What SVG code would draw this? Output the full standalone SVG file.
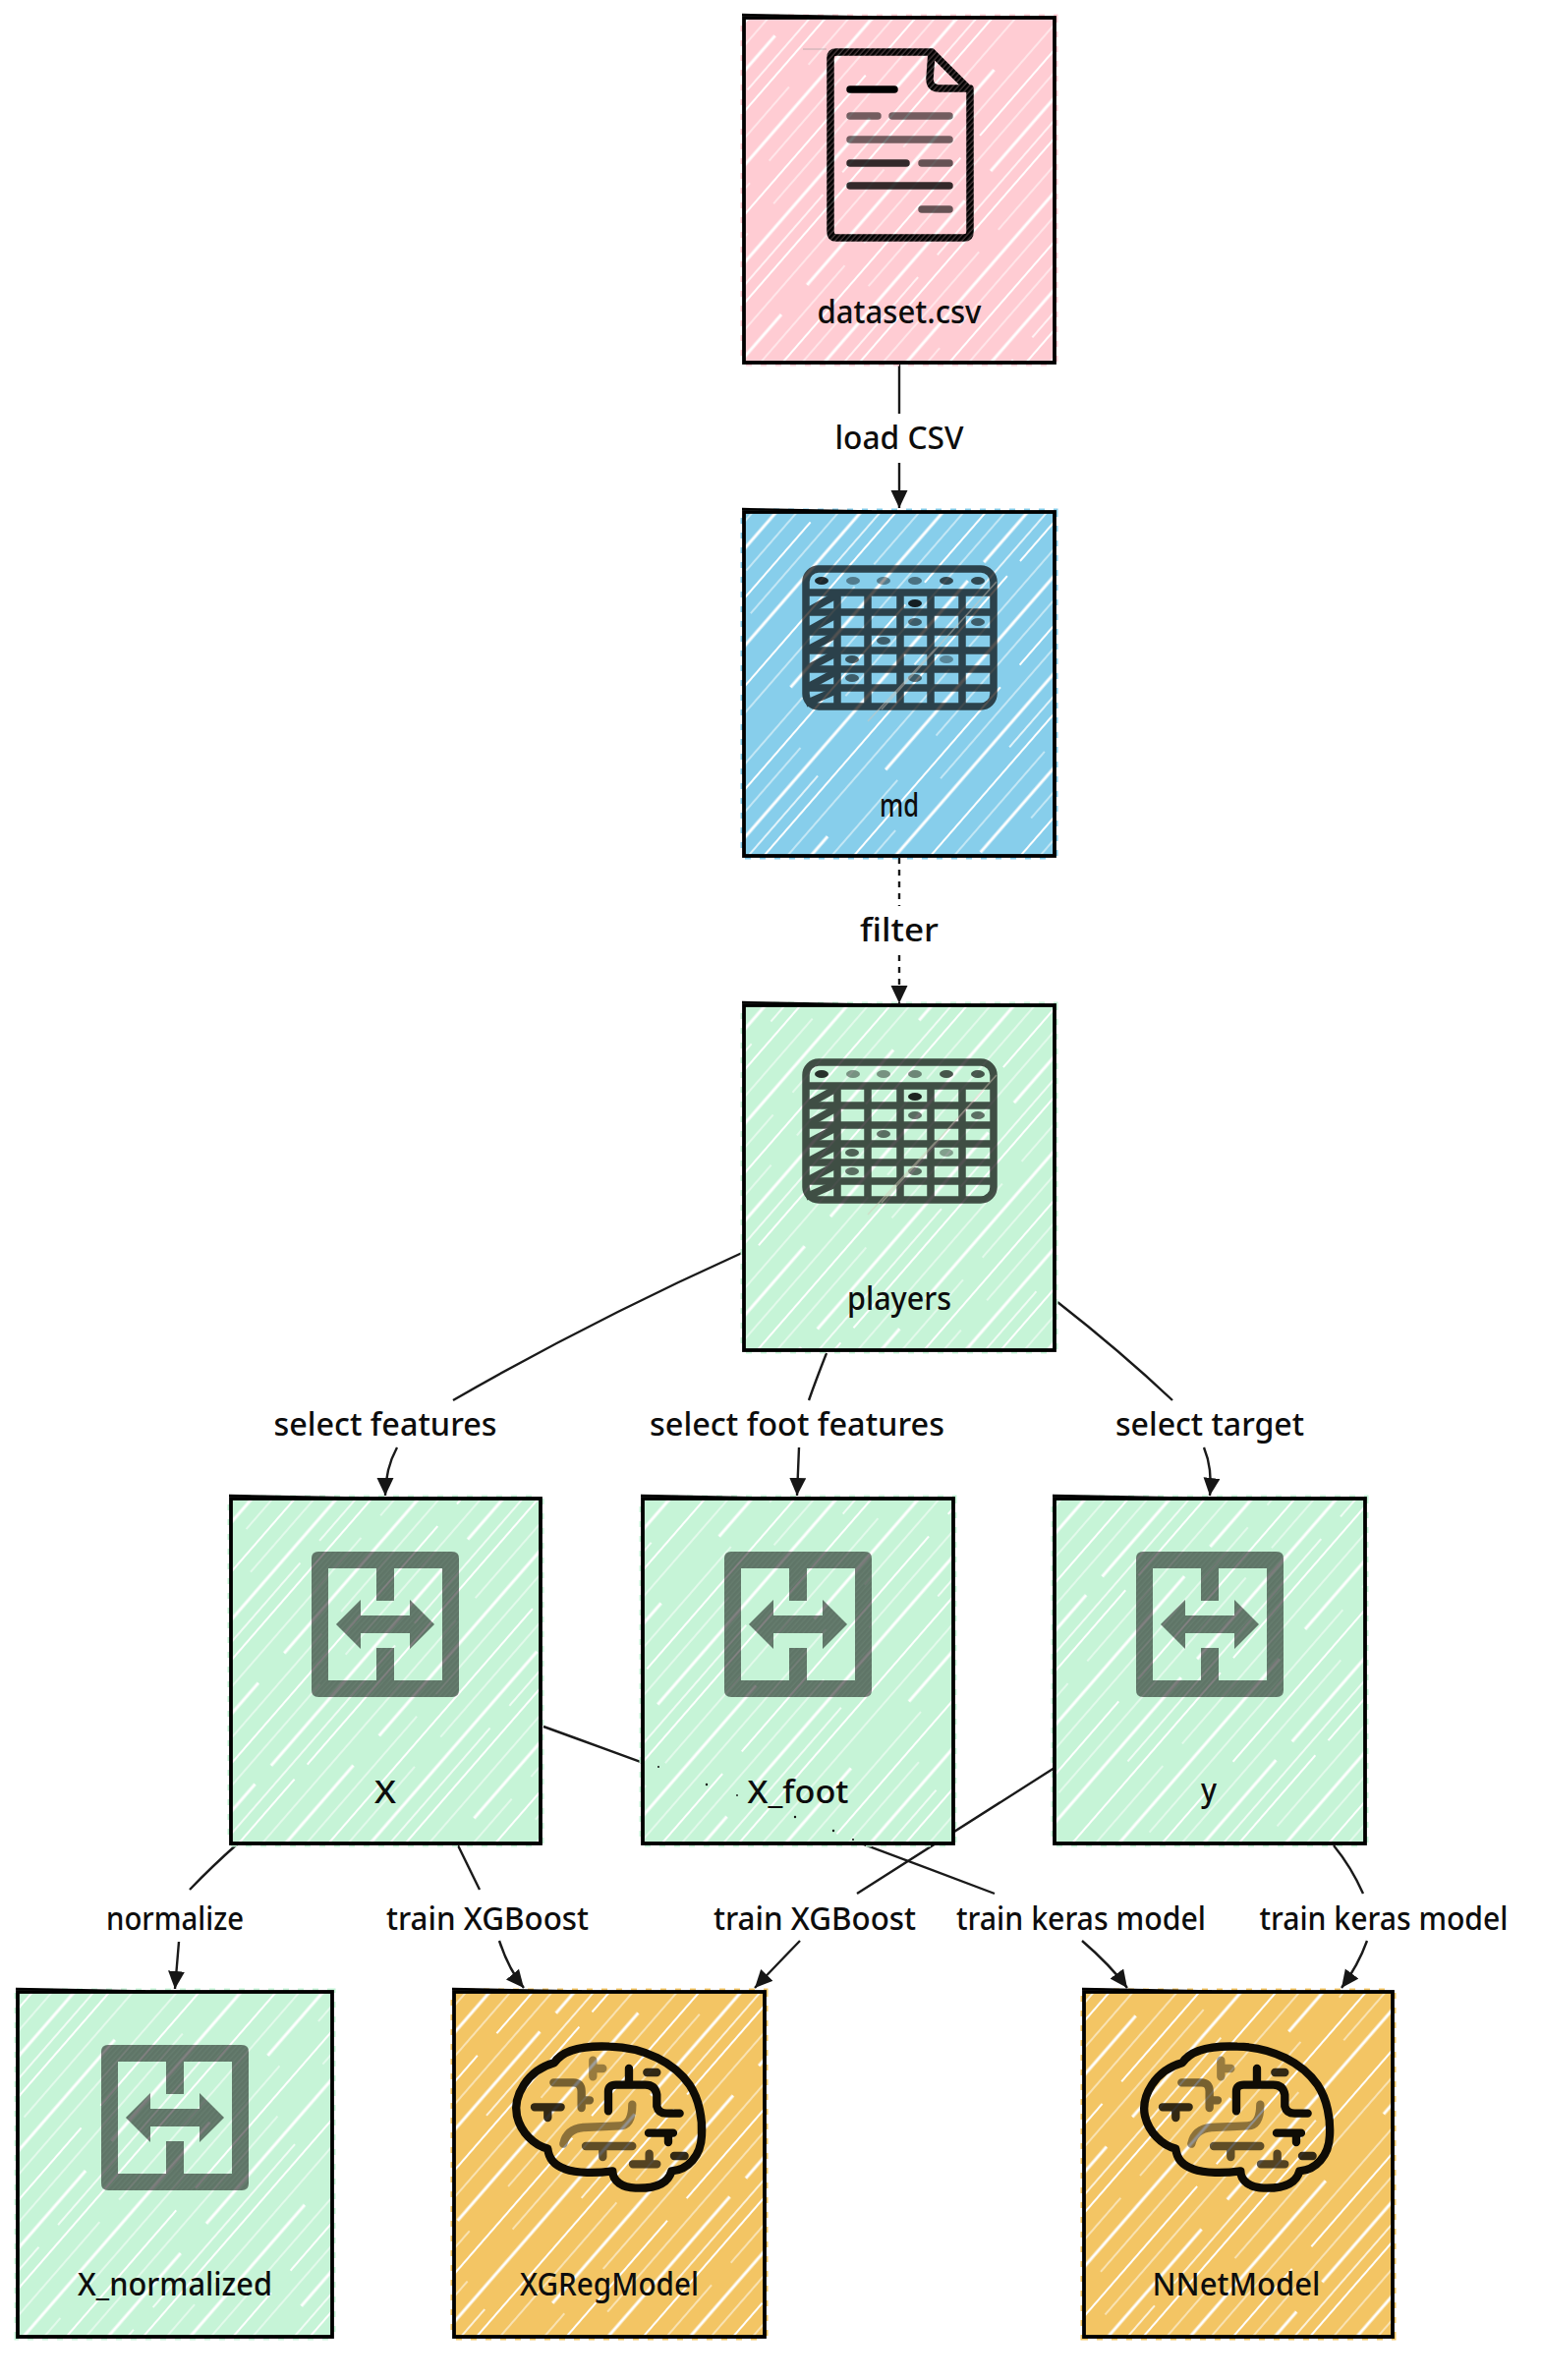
<svg xmlns="http://www.w3.org/2000/svg" xmlns:xlink="http://www.w3.org/1999/xlink" width="1568" height="2422" viewBox="0 0 1568 2422">
<style>
text{font-family:"Noto Sans","Open Sans",sans-serif;font-size:32px;font-weight:500;fill:#0d0d0d;text-anchor:middle}
.edge{fill:none;stroke:#1a1a1a;stroke-width:2.4;marker-end:url(#arrow)}
.dash{stroke-dasharray:6 6}
.bg{stroke-width:7;stroke-dasharray:6 9}
.pink{fill:#ffccd3;stroke:#ffccd3}
.blue{fill:#87ceeb;stroke:#87ceeb}
.mint{fill:#c6f4d7;stroke:#c6f4d7}
.gold{fill:#f3c564;stroke:#f3c564}
.hatch{fill:url(#hachure);stroke:none}
.border{fill:none;stroke:#000;stroke-width:3.8}
.wedge{fill:none;stroke:#000;stroke-width:2.4}
.doc{fill:none;stroke:url(#dense);stroke-width:7.5;stroke-linecap:round;stroke-linejoin:round}
.doc2{fill:none;stroke-width:7.5;stroke-linecap:round}
.tb{fill:none;stroke:#000;stroke-width:7.5}
.tbg{opacity:.68}
.tbd{fill:#000}
.ex1{fill:#000;fill-opacity:.4;fill-rule:evenodd}
.ex2{fill:url(#dense);fill-opacity:.2;fill-rule:evenodd}
.br{fill:none;stroke:#0f0c05;stroke-width:25;stroke-linecap:round;stroke-linejoin:round}
</style>
<defs>
<pattern id="hachure" patternUnits="userSpaceOnUse" width="700" height="128" patternTransform="rotate(-49)">
<g fill="none" stroke="#fff">
<path stroke-width="2" d="M0 6H230M250 6H700"/>
<path stroke-width="1.2" d="M0 24H120M150 24H460M490 24H700"/>
<path stroke-width="3.2" d="M0 42H280M320 42H610"/>
<path stroke-width="1.2" d="M60 58H360M390 58H700"/>
<path stroke-width="2" d="M0 75H140M170 75H520M550 75H700"/>
<path stroke-width="1" d="M30 90H320M360 90H660"/>
<path stroke-width="3.2" d="M0 107H200M225 107H490M530 107H700"/>
<path stroke-width="1.4" d="M100 122H400M430 122H650"/>
</g>
</pattern>
<pattern id="dense" patternUnits="userSpaceOnUse" width="4" height="4" patternTransform="rotate(-48)">
<rect width="4" height="4" fill="#000" fill-opacity=".72"/>
<rect width="4" height="2.6" fill="#000"/>
</pattern>
<marker id="arrow" markerUnits="userSpaceOnUse" markerWidth="20" markerHeight="18" refX="18" refY="8.5" orient="auto">
<path d="M0 0L18 8.5L0 17Z" fill="#161616"/>
</marker>
<path id="wedge" d="M-2 -3L130 -.5"/>
<g id="table">
<g class="tbg">
<rect class="tb" x="3" y="3" width="191" height="140" rx="13"/>
<path class="tb" d="M3 27H194M3 47H194M3 67H194M3 86H194M3 105H194M3 124H194M35 27V143M66 27V143M99 27V143M130 27V143M162 27V143"/>
<path class="tb" stroke-width="5.5" d="M3 47L35 29M3 67L35 49M3 86L35 69M3 105L35 88M3 124L35 107M3 140L35 126"/>
</g>
<g class="tbd">
<ellipse cx="19" cy="15" rx="7" ry="4" fill-opacity=".8"/><ellipse cx="51" cy="15" rx="7" ry="4" fill-opacity=".4"/><ellipse cx="82" cy="15" rx="7" ry="4" fill-opacity=".4"/><ellipse cx="114" cy="15" rx="7" ry="4" fill-opacity=".45"/><ellipse cx="146" cy="15" rx="7" ry="4" fill-opacity=".65"/><ellipse cx="178" cy="15" rx="7" ry="4" fill-opacity=".65"/>
<ellipse cx="114" cy="38" rx="7" ry="4" fill-opacity=".85"/><ellipse cx="114" cy="57" rx="7" ry="4" fill-opacity=".55"/><ellipse cx="178" cy="57" rx="7" ry="4" fill-opacity=".55"/><ellipse cx="82" cy="76" rx="7" ry="4" fill-opacity=".55"/><ellipse cx="50" cy="95" rx="7" ry="4" fill-opacity=".6"/><ellipse cx="146" cy="95" rx="7" ry="4" fill-opacity=".35"/><ellipse cx="50" cy="114" rx="7" ry="4" fill-opacity=".55"/><ellipse cx="114" cy="114" rx="7" ry="4" fill-opacity=".55"/>
</g>
<path d="M197 16L80 146M135 84L66 158" fill="none" stroke="#d8c8b8" stroke-opacity=".45" stroke-width="1.6"/>
</g>
<g id="exchange">
<path class="ex1" d="M-68 54H68Q75 54 75 61V195Q75 202 68 202H-68Q-75 202 -75 195V61Q-75 54 -68 54ZM-58 71H-9V104H9V71H58V185H9V152H-9V185H-58ZM-50 128L-25 103V119H25V103L50 128L25 153V137H-25V153Z"/>
<path class="ex2" d="M-68 54H68Q75 54 75 61V195Q75 202 68 202H-68Q-75 202 -75 195V61Q-75 54 -68 54ZM-58 71H-9V104H9V71H58V185H9V152H-9V185H-58ZM-50 128L-25 103V119H25V103L50 128L25 153V137H-25V153Z"/>
</g>
<g id="brain" transform="scale(.3333)">
<path class="br" d="M372 298C400 255 470 245 540 248C650 250 740 300 785 365C815 410 825 470 822 520C820 580 780 625 730 628C720 665 680 682 620 680C580 678 550 660 550 628C500 635 440 635 405 622C370 610 355 590 352 560C310 550 270 510 258 460C245 400 290 320 372 298Z"/>
<path class="br" d="M537 445V385Q537 365 560 365H650Q680 365 685 395V430Q690 452 715 452H755M600 315V365"/>
<path class="br" stroke-opacity=".85" d="M655 327H685M312 433H392M352 433V465M738 582H770"/>
<path class="br" d="M660 512H735M720 512V540"/>
<path class="br" stroke-opacity=".4" d="M490 290V340M490 315H520"/>
<path class="br" stroke-opacity=".55" d="M370 358H430Q455 358 455 385V435M455 412H480"/>
<path class="br" stroke-opacity=".45" d="M610 425Q610 490 570 490L460 495Q410 500 400 545"/>
<path class="br" stroke-opacity=".65" d="M468 552H610M520 552V585"/>
<path class="br" stroke-opacity=".7" d="M612 607H685M662 575V607"/>
</g>
</defs>
<rect width="1568" height="2422" fill="#fff"/>
<g id="connectors">
<path class="edge" d="M915 371V421M915 471V517"/>
<path class="edge dash" d="M915 873V922M915 972V1021"/>
<path class="edge" d="M755 1275Q600 1345 461 1425M404 1473Q392 1495 392 1522"/>
<path class="edge" d="M841 1377Q830 1405 823 1425M813 1473L811 1522"/>
<path class="edge" d="M1076 1325Q1140 1375 1193 1425M1225 1473Q1234 1495 1231 1522"/>
<path class="edge" d="M242 1876Q215 1900 193 1923M182 1976Q180 2000 178 2024"/>
<path class="edge" d="M466 1878L488 1923M508 1975Q518 2005 533 2023"/>
<path class="edge" d="M553 1757Q760 1832 1012 1927M1101 1975Q1130 2000 1147 2023"/>
<path class="edge" d="M1073 1799L872 1927M814 1975Q785 2005 768 2023"/>
<path class="edge" d="M1357 1878Q1375 1900 1387 1927M1391 1975Q1382 2000 1365 2023"/>
</g>
<g id="edge-labels">
<text x="915" y="457" textLength="131" lengthAdjust="spacingAndGlyphs">load CSV</text>
<text x="915" y="958" textLength="80" lengthAdjust="spacingAndGlyphs">filter</text>
<text x="392" y="1461" textLength="227" lengthAdjust="spacingAndGlyphs">select features</text>
<text x="811" y="1461" textLength="300" lengthAdjust="spacingAndGlyphs">select foot features</text>
<text x="1231" y="1461" textLength="192" lengthAdjust="spacingAndGlyphs">select target</text>
<text x="178" y="1964" textLength="140" lengthAdjust="spacingAndGlyphs">normalize</text>
<text x="496" y="1964" textLength="206" lengthAdjust="spacingAndGlyphs">train XGBoost</text>
<text x="829" y="1964" textLength="206" lengthAdjust="spacingAndGlyphs">train XGBoost</text>
<text x="1100" y="1964" textLength="254" lengthAdjust="spacingAndGlyphs">train keras model</text>
<text x="1408" y="1964" textLength="253" lengthAdjust="spacingAndGlyphs">train keras model</text>
</g>
<g id="node-dataset">
<rect class="bg pink" x="757" y="18" width="316" height="351"/><rect class="hatch" x="757" y="18" width="316" height="351"/>
<use href="#wedge" class="wedge" x="757" y="18"/><rect class="border" x="757" y="18" width="316" height="351"/>
<path d="M817 50H841" stroke="#999" stroke-opacity=".6" fill="none"/>
<path class="doc" d="M851 53H948L987 92V236Q987 242 981 242H851Q845 242 845 236V59Q845 53 851 53ZM948 53L946 80Q946 90 956 90H987"/>
<g class="doc2">
<path stroke="#000" d="M865 91H910"/>
<path stroke="#000" stroke-opacity=".55" d="M865 118H893M908 118H966M865 142H966"/>
<path stroke="#000" stroke-opacity=".8" d="M865 166H922M865 189H966"/>
<path stroke="#000" stroke-opacity=".6" d="M938 166H966M938 213H966"/>
</g>
<text x="915" y="329" textLength="167" lengthAdjust="spacingAndGlyphs">dataset.csv</text>
</g>
<g id="node-md">
<rect class="bg blue" x="757" y="521" width="316" height="350"/><rect class="hatch" x="757" y="521" width="316" height="350"/>
<use href="#wedge" class="wedge" x="757" y="521"/><rect class="border" x="757" y="521" width="316" height="350"/>
<use href="#table" x="817" y="576"/>
<text x="915" y="831" textLength="40" lengthAdjust="spacingAndGlyphs">md</text>
</g>
<g id="node-players">
<rect class="bg mint" x="757" y="1023" width="316" height="351"/><rect class="hatch" x="757" y="1023" width="316" height="351"/>
<use href="#wedge" class="wedge" x="757" y="1023"/><rect class="border" x="757" y="1023" width="316" height="351"/>
<use href="#table" x="817" y="1078"/>
<text x="915" y="1333" textLength="106" lengthAdjust="spacingAndGlyphs">players</text>
</g>
<g id="node-X">
<rect class="bg mint" x="235" y="1525" width="315" height="351"/><rect class="hatch" x="235" y="1525" width="315" height="351"/>
<use href="#wedge" class="wedge" x="235" y="1525"/><rect class="border" x="235" y="1525" width="315" height="351"/>
<use href="#exchange" x="392" y="1525"/>
<text x="392" y="1835" textLength="22" lengthAdjust="spacingAndGlyphs">X</text>
</g>
<g id="node-X_foot">
<rect class="bg mint" x="654" y="1525" width="316" height="351"/><rect class="hatch" x="654" y="1525" width="316" height="351"/>
<use href="#wedge" class="wedge" x="654" y="1525"/><rect class="border" x="654" y="1525" width="316" height="351"/>
<use href="#exchange" x="812" y="1525"/>
<text x="812" y="1835" textLength="103" lengthAdjust="spacingAndGlyphs">X_foot</text>
</g>
<g id="node-y">
<rect class="bg mint" x="1073" y="1525" width="316" height="351"/><rect class="hatch" x="1073" y="1525" width="316" height="351"/>
<use href="#wedge" class="wedge" x="1073" y="1525"/><rect class="border" x="1073" y="1525" width="316" height="351"/>
<use href="#exchange" x="1231" y="1525"/>
<text x="1230" y="1833" textLength="16" lengthAdjust="spacingAndGlyphs">y</text>
</g>
<g id="node-X_normalized">
<rect class="bg mint" x="18" y="2027" width="320" height="351"/><rect class="hatch" x="18" y="2027" width="320" height="351"/>
<use href="#wedge" class="wedge" x="18" y="2027"/><rect class="border" x="18" y="2027" width="320" height="351"/>
<use href="#exchange" x="178" y="2027"/>
<text x="178" y="2336" textLength="198" lengthAdjust="spacingAndGlyphs">X_normalized</text>
</g>
<g id="node-XGRegModel">
<rect class="bg gold" x="462" y="2027" width="316" height="351"/><rect class="hatch" x="462" y="2027" width="316" height="351"/>
<use href="#wedge" class="wedge" x="462" y="2027"/><rect class="border" x="462" y="2027" width="316" height="351"/>
<use href="#brain" transform="translate(440 2000)"/>
<text x="620" y="2336" textLength="182" lengthAdjust="spacingAndGlyphs">XGRegModel</text>
</g>
<g id="node-NNetModel">
<rect class="bg gold" x="1103" y="2027" width="314" height="351"/><rect class="hatch" x="1103" y="2027" width="314" height="351"/>
<use href="#wedge" class="wedge" x="1103" y="2027"/><rect class="border" x="1103" y="2027" width="314" height="351"/>
<use href="#brain" transform="translate(1079 2000)"/>
<text x="1258" y="2336" textLength="171" lengthAdjust="spacingAndGlyphs">NNetModel</text>
</g>
<g id="connector-specks" fill="#111">
<circle cx="670" cy="1798" r="1"/><circle cx="719" cy="1816" r="1.2"/><circle cx="750" cy="1827" r=".9"/><circle cx="809" cy="1849" r="1.2"/><circle cx="848" cy="1863" r="1.2"/><circle cx="868" cy="1872" r="1"/>
</g>
</svg>
